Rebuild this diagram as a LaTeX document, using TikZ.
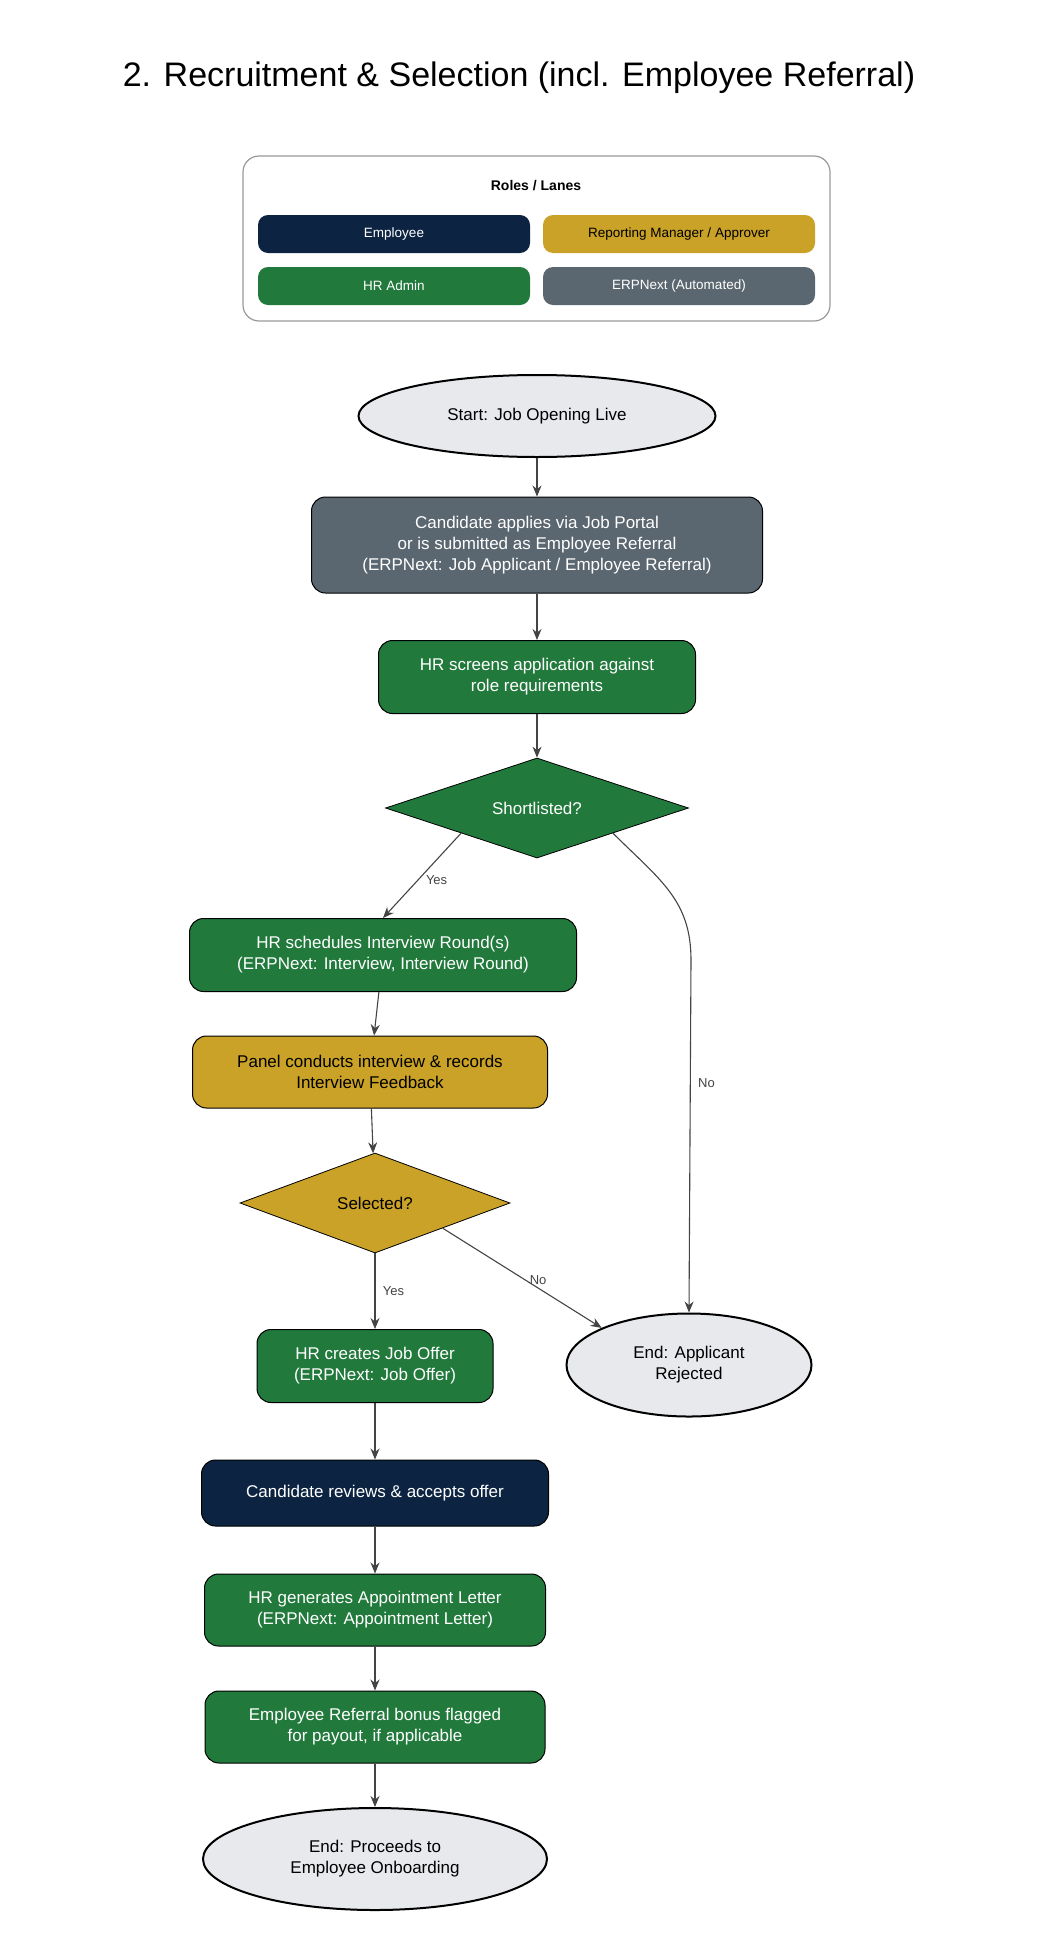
\documentclass[tikz,border=0pt]{standalone}
\usepackage{fontspec}
\setmainfont{Liberation Sans}
\usetikzlibrary{shapes.geometric,arrows.meta,calc}
\definecolor{navy}{HTML}{0C2442}
\definecolor{gold}{HTML}{C9A227}
\definecolor{hrgreen}{HTML}{217A3C}
\definecolor{erp}{HTML}{5B6770}
\definecolor{endfill}{HTML}{E8E9ED}
\definecolor{edgec}{HTML}{444444}
\begin{document}
\begin{tikzpicture}[x=1pt,y=-1pt,
  box/.style={draw=black,line width=1pt,rounded corners=14pt,align=center,font=\fontsize{17}{21}\selectfont,inner sep=0pt},
  lane/.style={rounded corners=10pt,minimum width=272pt,minimum height=38pt,inner sep=0pt,font=\fontsize{13.5}{16}\selectfont},
  term/.style={ellipse,draw=black,line width=2pt,fill=endfill,align=center,font=\fontsize{17}{21}\selectfont,inner sep=0pt},
  dec/.style={diamond,draw=black,line width=0.8pt,font=\fontsize{17}{21}\selectfont,inner sep=0pt,aspect=2.6},
  arr/.style={draw=edgec,line width=1.1pt,-{Stealth[length=11pt,width=9pt]}},
  lbl/.style={font=\fontsize{13}{15}\selectfont,text=edgec}]
\useasboundingbox (0,0) rectangle (1037,1946);
\node[font=\fontsize{34}{40}\selectfont] (title) at (519,78) {2. Recruitment \& Selection (incl. Employee Referral)};
\draw[draw=gray!80,line width=1.2pt,rounded corners=16pt] (243,156) rectangle (830,321);
\node[font=\bfseries\fontsize{14}{17}\selectfont] (legt) at (536,186) {Roles / Lanes};
\node[lane,fill=navy,text=white] (l1) at (394,234) {Employee};
\node[lane,fill=gold,text=black] (l2) at (679,234) {Reporting Manager / Approver};
\node[lane,fill=hrgreen,text=white] (l3) at (394,286) {HR Admin};
\node[lane,fill=erp,text=white] (l4) at (679,286) {ERPNext (Automated)};

\node[term,minimum width=357pt,minimum height=82pt] (start) at (537,416) {Start: Job Opening Live};
\node[box,fill=erp,text=white,minimum width=451pt,minimum height=96pt] (apply) at (537,545) {Candidate applies via Job Portal\\or is submitted as Employee Referral\\(ERPNext: Job Applicant / Employee Referral)};
\node[box,fill=hrgreen,text=white,minimum width=317pt,minimum height=73pt] (screen) at (537,677) {HR screens application against\\role requirements};
\node[dec,fill=hrgreen,text=white,minimum width=303pt,minimum height=100pt] (short) at (537,808) {Shortlisted?};
\node[box,fill=hrgreen,text=white,minimum width=387pt,minimum height=73pt] (sched) at (383,955) {HR schedules Interview Round(s)\\(ERPNext: Interview, Interview Round)};
\node[box,fill=gold,text=black,minimum width=355pt,minimum height=72pt] (panel) at (370,1072) {Panel conducts interview \& records\\Interview Feedback};
\node[dec,fill=gold,text=black,minimum width=270pt,minimum height=100pt] (sel) at (375,1203) {Selected?};
\node[box,fill=hrgreen,text=white,minimum width=236pt,minimum height=73pt] (offer) at (375,1366) {HR creates Job Offer\\(ERPNext: Job Offer)};
\node[term,minimum width=245pt,minimum height=103pt] (rej) at (689,1365) {End: Applicant\\Rejected};
\node[box,fill=navy,text=white,minimum width=347pt,minimum height=66pt] (accept) at (375,1493) {Candidate reviews \& accepts offer};
\node[box,fill=hrgreen,text=white,minimum width=341pt,minimum height=72pt] (appt) at (375,1610) {HR generates Appointment Letter\\(ERPNext: Appointment Letter)};
\node[box,fill=hrgreen,text=white,minimum width=340pt,minimum height=72pt] (bonus) at (375,1727) {Employee Referral bonus flagged\\for payout, if applicable};
\node[term,minimum width=344pt,minimum height=102pt] (onb) at (375,1859) {End: Proceeds to\\Employee Onboarding};

\draw[arr] (start) -- (apply);
\draw[arr] (apply) -- (screen);
\draw[arr] (screen) -- (short);
\draw[arr] ($(short.west)!0.5!(short.south)$) -- node[lbl,right,pos=0.55,xshift=4pt]{Yes} (sched.north);
\draw[arr] (sched) -- (panel);
\draw[arr] (panel) -- (sel);
\draw[arr] (sel) -- node[lbl,right,xshift=4pt]{Yes} (offer);
\draw[arr] ($(sel.east)!0.5!(sel.south)$) -- node[lbl,above,pos=0.6]{No} (rej.north west);
\draw[arr] ($(short.east)!0.5!(short.south)$) .. controls (660,880) and (691,900) .. (691,960) -- node[lbl,right,pos=0.35,xshift=4pt]{No} (rej.north);
\draw[arr] (offer) -- (accept);
\draw[arr] (accept) -- (appt);
\draw[arr] (appt) -- (bonus);
\draw[arr] (bonus) -- (onb);
\end{tikzpicture}
\end{document}
